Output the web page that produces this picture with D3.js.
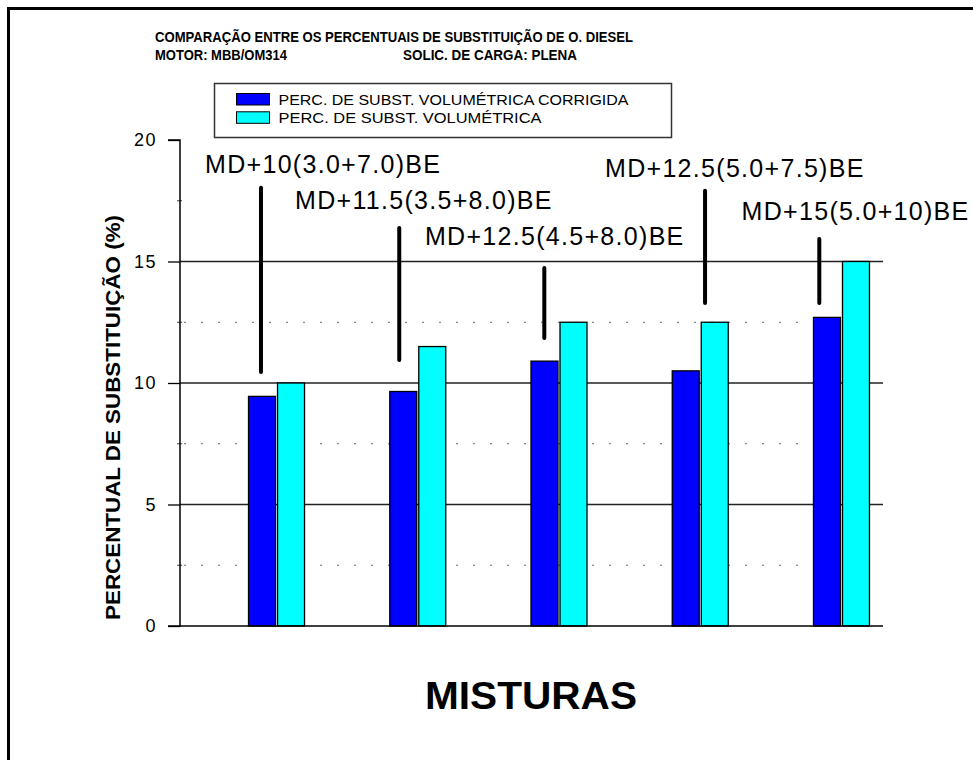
<!DOCTYPE html>
<html>
<head>
<meta charset="utf-8">
<script src="https://cdn.jsdelivr.net/npm/d3@7"></script>
<style>
  html, body { margin: 0; padding: 0; background: #fff; }
  svg { display: block; }
  text { font-family: "Liberation Sans", Arial, sans-serif; fill: #000; }
</style>
</head>
<body>
<div id="chart"></div>
<script>
// ---------------- data ----------------
const categories = [
  "MD+10(3.0+7.0)BE",
  "MD+11.5(3.5+8.0)BE",
  "MD+12.5(4.5+8.0)BE",
  "MD+12.5(5.0+7.5)BE",
  "MD+15(5.0+10)BE"
];
const seriesNames = [
  "PERC. DE SUBST. VOLUMÉTRICA CORRIGIDA",
  "PERC. DE SUBST. VOLUMÉTRICA"
];
const corrigida   = [9.45, 9.65, 10.9, 10.5, 12.7];
const volumetrica = [10.0, 11.5, 12.5, 12.5, 15.0];
const majorTicks = [0, 5, 10, 15, 20];
const minorTicks = [2.5, 7.5, 12.5, 17.5];
const dottedLevels = [2.5, 7.5, 12.5];
const solidLevels = [5, 10, 15];

// annotation callouts (value units for y, category units for x offsets)
const annotTextY    = [18.64, 17.16, 15.67, 18.49, 16.70];
const annotTextDx   = [-0.506, -0.869, -0.949, -0.674, -0.707];
const annotLineDx   = [-0.110, -0.131, -0.104, 0.034, -0.157];
const annotLineTop  = [18.04, 16.38, 14.73, 17.91, 15.93];
const annotLineBot  = [10.45, 10.95, 11.85, 13.29, 13.29];

const title1 = "COMPARAÇÃO ENTRE OS PERCENTUAIS DE SUBSTITUIÇÃO DE O. DIESEL";
const title2a = "MOTOR: MBB/OM314";
const title2b = "SOLIC. DE CARGA: PLENA";
const yTitle = "PERCENTUAL DE SUBSTITUIÇÃO (%)";
const xTitle = "MISTURAS";
const colors = ["#0000ff", "#00ffff"];

// ---------------- layout ----------------
const W = 973, H = 760;
const axisX = 180, gridRight = 883;
const y0px = 626, y20px = 140;

const svg = d3.select("#chart").append("svg")
  .attr("width", W).attr("height", H);

svg.append("rect").attr("width", W).attr("height", H).attr("fill", "#fff");

// outer frame (top and left)
svg.append("path")
  .attr("d", `M8.5,${H} V8.5 H${W}`)
  .attr("fill", "none").attr("stroke", "#000").attr("stroke-width", 3);

const y = d3.scaleLinear().domain([0, 20]).range([y0px, y20px]);
const x0 = d3.scaleBand().domain(d3.range(categories.length))
  .range([205.9, 912.1]).padding(0);
const xc = d3.scaleLinear().domain([-0.5, categories.length - 0.5]).range([205.9, 912.1]);
const x1 = d3.scaleBand().domain(d3.range(seriesNames.length))
  .range([-28, 28]).paddingInner(0.07);

// ---------------- titles ----------------
svg.append("text").attr("x", 155).attr("y", 41.5)
  .attr("font-size", 14.5).attr("font-weight", "bold")
  .attr("textLength", 478).attr("lengthAdjust", "spacingAndGlyphs")
  .text(title1);
svg.append("text").attr("x", 155).attr("y", 59.5)
  .attr("font-size", 14.5).attr("font-weight", "bold")
  .attr("textLength", 132).attr("lengthAdjust", "spacingAndGlyphs")
  .text(title2a);
svg.append("text").attr("x", 403).attr("y", 59.5)
  .attr("font-size", 14.5).attr("font-weight", "bold")
  .attr("textLength", 174).attr("lengthAdjust", "spacingAndGlyphs")
  .text(title2b);

// ---------------- legend ----------------
const lg = svg.append("g");
lg.append("rect").attr("x", 214.5).attr("y", 83.5).attr("width", 457).attr("height", 54)
  .attr("fill", "#fff").attr("stroke", "#333").attr("stroke-width", 1.5);
const legendTextLen = [350, 263];
seriesNames.forEach((s, i) => {
  lg.append("rect").attr("x", 236.5).attr("y", 93.5 + i * 18.3)
    .attr("width", 33).attr("height", 11.5)
    .attr("fill", colors[i]).attr("stroke", "#000").attr("stroke-width", 1);
  lg.append("text").attr("x", 278.5).attr("y", 105 + i * 17.8)
    .attr("font-size", 14)
    .attr("textLength", legendTextLen[i]).attr("lengthAdjust", "spacingAndGlyphs")
    .text(s);
});

// ---------------- grid ----------------
const grid = svg.append("g");
grid.selectAll("line.solid").data(solidLevels).join("line")
  .attr("class", "solid")
  .attr("x1", axisX).attr("x2", gridRight)
  .attr("y1", d => y(d)).attr("y2", d => y(d))
  .attr("stroke", "#222").attr("stroke-width", 1.4);
grid.selectAll("line.dot").data(dottedLevels).join("line")
  .attr("class", "dot")
  .attr("x1", axisX + 4).attr("x2", gridRight - 10)
  .attr("y1", d => y(d)).attr("y2", d => y(d))
  .attr("stroke", "#666").attr("stroke-width", 1)
  .attr("stroke-dasharray", "2,15");
grid.selectAll("line.minor").data(minorTicks).join("line")
  .attr("class", "minor")
  .attr("x1", axisX - 3).attr("x2", axisX + 2)
  .attr("y1", d => y(d)).attr("y2", d => y(d))
  .attr("stroke", "#444").attr("stroke-width", 1);

// ---------------- bars ----------------
const seriesValues = [corrigida, volumetrica];
const bars = svg.append("g");
categories.forEach((c, ci) => {
  const cx = x0(ci) + x0.bandwidth() / 2;
  seriesValues.forEach((vals, si) => {
    bars.append("rect")
      .attr("x", cx + x1(si))
      .attr("y", y(vals[ci]))
      .attr("width", x1.bandwidth())
      .attr("height", y(0) - y(vals[ci]))
      .attr("fill", colors[si])
      .attr("stroke", "#000").attr("stroke-width", 1.3);
  });
});

// zero line
svg.append("line").attr("x1", axisX).attr("x2", gridRight)
  .attr("y1", y(0)).attr("y2", y(0))
  .attr("stroke", "#000").attr("stroke-width", 1.5);

// ---------------- y axis ----------------
const yAxis = d3.axisLeft(y).tickValues(majorTicks).tickSize(12).tickPadding(11)
  .tickFormat(d3.format("d"));
const ya = svg.append("g").attr("transform", `translate(${axisX},0)`).call(yAxis);
ya.select(".domain").attr("stroke", "#000").attr("stroke-width", 1.5)
  .attr("d", `M-12,${y20px}H0V${y0px}H-12`);
ya.selectAll(".tick line").attr("stroke", "#000").attr("stroke-width", 1.3);
ya.selectAll(".tick text")
  .attr("font-family", "'Liberation Sans', Arial, sans-serif")
  .attr("font-size", 18).attr("fill", "#000")
  .attr("letter-spacing", "1.5px");

// y title
svg.append("text")
  .attr("transform", `translate(120,417.5) rotate(-90)`)
  .attr("text-anchor", "middle")
  .attr("font-size", 21).attr("font-weight", "bold")
  .attr("textLength", 405).attr("lengthAdjust", "spacingAndGlyphs")
  .text(yTitle);

// x title
svg.append("text").attr("x", 531).attr("y", 709)
  .attr("text-anchor", "middle")
  .attr("font-size", 39).attr("font-weight", "bold")
  .attr("textLength", 212).attr("lengthAdjust", "spacingAndGlyphs")
  .text(xTitle);

// ---------------- annotations ----------------
const ann = svg.append("g");
categories.forEach((c, i) => {
  const lx = xc(i + annotLineDx[i]);
  ann.append("line")
    .attr("x1", lx).attr("x2", lx)
    .attr("y1", y(annotLineTop[i])).attr("y2", y(annotLineBot[i]))
    .attr("stroke", "#000").attr("stroke-width", 4).attr("stroke-linecap", "round");
  ann.append("text")
    .attr("x", xc(i + annotTextDx[i]))
    .attr("y", y(annotTextY[i]))
    .attr("font-size", 25)
    .attr("letter-spacing", "1.3px")
    .text(c);
});
</script>
</body>
</html>
